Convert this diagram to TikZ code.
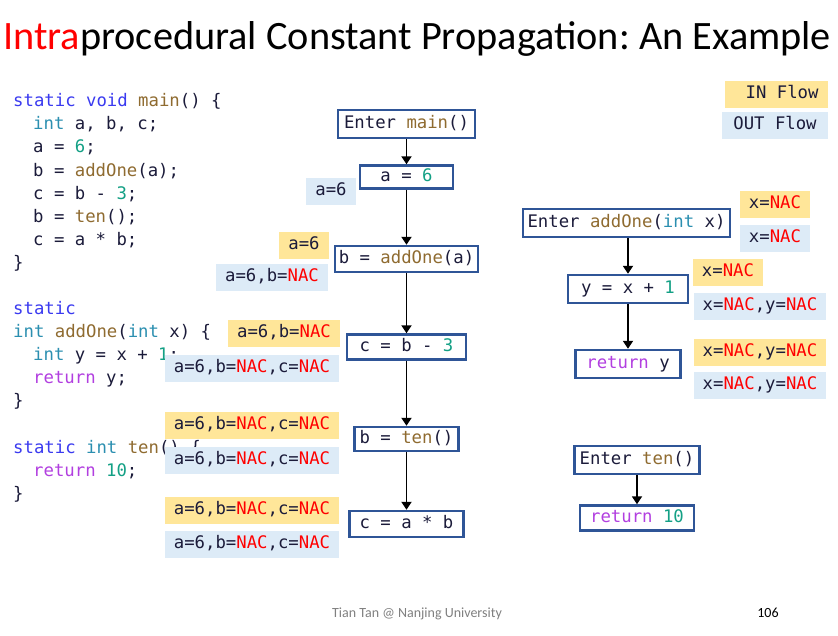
\documentclass[tikz,border=0pt]{standalone}
\usepackage{fontspec}
\setmainfont{Carlito}
\setmonofont{DejaVu Sans Mono}
\usetikzlibrary{arrows.meta}

\definecolor{kwblue}{HTML}{3A3AF0}
\definecolor{tyteal}{HTML}{2B8FB0}
\definecolor{fnbrown}{HTML}{8F6B30}
\definecolor{numgreen}{HTML}{13A085}
\definecolor{retpurple}{HTML}{B23FE0}
\definecolor{codeink}{HTML}{1B1B3A}
\definecolor{boxblue}{HTML}{2F5597}
\definecolor{inyellow}{HTML}{FFE699}
\definecolor{outblue}{HTML}{DDEBF7}
\definecolor{nacred}{HTML}{FF0000}

\newcommand{\kw}[1]{\textcolor{kwblue}{#1}}
\newcommand{\ty}[1]{\textcolor{tyteal}{#1}}
\newcommand{\fn}[1]{\textcolor{fnbrown}{#1}}
\newcommand{\nm}[1]{\textcolor{numgreen}{#1}}
\newcommand{\rt}[1]{\textcolor{retpurple}{#1}}
\newcommand{\nac}{\textcolor{nacred}{NAC}}

\tikzset{
  code/.style={anchor=base west, inner sep=0pt, text=codeink, font=\ttfamily\fontsize{17.3}{20}\selectfont},
  flowbox/.style={draw=boxblue, line width=2.4pt, fill=white, inner sep=0pt, minimum height=26pt,
    text=codeink, text height=12pt, text depth=3.5pt, font=\ttfamily\fontsize{17.3}{20}\selectfont},
  inbox/.style={fill=inyellow, inner xsep=9pt, inner ysep=0pt, minimum height=27pt,
    text=codeink, text height=12pt, text depth=3.5pt, font=\ttfamily\fontsize{17.3}{20}\selectfont},
  outbox/.style={inbox, fill=outblue},
  flowarrow/.style={-{Triangle[width=10pt,length=8pt]}, line width=1.8pt, black}
}

\begin{document}
\frenchspacing
\begin{tikzpicture}[x=1pt, y=-1pt]
  \fill[white] (0,0) rectangle (838,635);
  \useasboundingbox (0,0) rectangle (838,635);

  % title
  \node[anchor=base west, inner sep=0pt, font=\fontsize{40.3}{48}\selectfont] (title) at (3,49)
    {\textcolor{red}{Intra}procedural Constant Propagation: An Example};

  % source code
  \node[code] (l1) at (13,106) {\kw{static} \kw{void} \fn{main}() \{};
  \node[code] (l2) at (33,129) {\ty{int} a, b, c;};
  \node[code] (l3) at (33,152) {a = \nm{6};};
  \node[code] (l4) at (33,176) {b = \fn{addOne}(a);};
  \node[code] (l5) at (33,199) {c = b - \nm{3};};
  \node[code] (l6) at (33,222) {b = \fn{ten}();};
  \node[code] (l7) at (33,245) {c = a * b;};
  \node[code] (l8) at (13,268) {\}};
  \node[code] (l9) at (13,314) {\kw{static}};
  \node[code] (l10) at (13,337) {\ty{int} \fn{addOne}(\ty{int} x) \{};
  \node[code] (l11) at (33,360) {\ty{int} y = x + \nm{1};};
  \node[code] (l12) at (33,383) {\rt{return} y;};
  \node[code] (l13) at (13,406) {\}};
  \node[code] (l14) at (13,453) {\kw{static} \ty{int} \fn{ten}() \{};
  \node[code] (l15) at (33,476) {\rt{return} \nm{10};};
  \node[code] (l16) at (13,499) {\}};

  % main
  \node[flowbox, minimum width=137pt, minimum height=28pt] (entmain) at (406.5,124) {Enter \fn{main}()};
  \node[flowbox, minimum width=93pt, minimum height=23pt] (asix) at (406.5,177) {a = \nm{6}};
  \node[flowbox, minimum width=143pt] (badd) at (406.5,259) {b = \fn{addOne}(a)};
  \node[flowbox, minimum width=119pt, minimum height=25pt] (cbm) at (406.5,347) {c = b - \nm{3}};
  \node[flowbox, minimum width=104pt, minimum height=24pt] (bten) at (406.5,439) {b = \fn{ten}()};
  \node[flowbox, minimum width=114pt] (cab) at (406.5,524) {c = a * b};

  \draw[flowarrow] (entmain) -- (asix);
  \draw[flowarrow] (asix) -- (badd);
  \draw[flowarrow] (badd) -- (cbm);
  \draw[flowarrow] (cbm) -- (bten);
  \draw[flowarrow] (bten) -- (cab);

  \node[outbox] (o1) at (331,191) {a=6};
  \node[inbox] (i2) at (304,245) {a=6};
  \node[outbox] (o2) at (272,277) {a=6,b=\nac};
  \node[inbox] (i3) at (284,333) {a=6,b=\nac};
  \node[outbox] (o3) at (252,368) {a=6,b=\nac,c=\nac};
  \node[inbox] (i4) at (252,425) {a=6,b=\nac,c=\nac};
  \node[outbox] (o4) at (252,460) {a=6,b=\nac,c=\nac};
  \node[inbox] (i5) at (252,510) {a=6,b=\nac,c=\nac};
  \node[outbox] (o5) at (252,544) {a=6,b=\nac,c=\nac};

  % addOne
  \node[flowbox, minimum width=207pt, minimum height=28pt] (entadd) at (626.5,223) {Enter \fn{addOne}(\ty{int} x)};
  \node[flowbox, minimum width=120pt, minimum height=28pt] (yx) at (628,289) {y = x + \nm{1}};
  \node[flowbox, minimum width=105pt, minimum height=28pt] (rety) at (628,364) {\rt{return} y};

  \draw[flowarrow] (yx |- entadd.south) -- (yx);
  \draw[flowarrow] (yx) -- (rety);

  \node[inbox] (ai1) at (775,204) {x=\nac};
  \node[outbox] (ao1) at (775,238) {x=\nac};
  \node[inbox] (ai2) at (728,272) {x=\nac};
  \node[outbox] (ao2) at (760,306) {x=\nac,y=\nac};
  \node[inbox] (ai3) at (760,352) {x=\nac,y=\nac};
  \node[outbox] (ao3) at (760,385) {x=\nac,y=\nac};

  % ten
  \node[flowbox, minimum width=125pt, minimum height=28pt] (entten) at (637,460) {Enter \fn{ten}()};
  \node[flowbox, minimum width=114pt, minimum height=25pt] (retten) at (637,518) {\rt{return} \nm{10}};
  \draw[flowarrow] (entten) -- (retten);

  % legend
  \node[inbox, minimum width=103pt] (legin) at (776.5,94) {\makebox[84pt][r]{IN Flow}};
  \node[outbox, minimum width=106pt] (legout) at (775,125) {OUT Flow};

  % footer
  \node[font=\fontsize{14}{16}\selectfont, text=gray] (foot) at (417,614) {Tian Tan @ Nanjing University};
  \node[font=\fontsize{14}{16}\selectfont] (page) at (768,613) {106};
\end{tikzpicture}
\end{document}
